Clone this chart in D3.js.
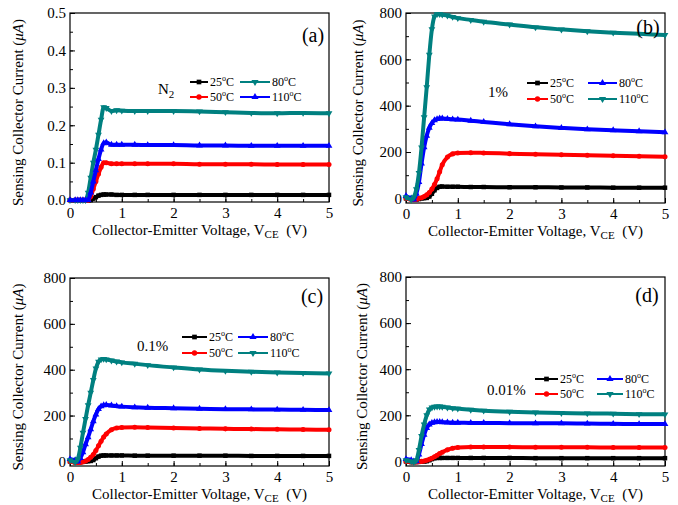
<!DOCTYPE html>
<html>
<head>
<meta charset="utf-8">
<script src="https://cdn.jsdelivr.net/npm/d3@7"></script>
<style>
  body { margin: 0; background: #fff; }
  svg, svg text { font-family: "Liberation Serif", "DejaVu Serif", "Times New Roman", Times, serif; fill: #000; }
  .axis path, .axis line { stroke: #000; }
</style>
</head>
<body>
<div id="chart"></div>
<script>
// shared x values (V) for every curve
var voltage = [0, 0.1, 0.15, 0.2, 0.25, 0.3, 0.35, 0.4, 0.45, 0.5, 0.55, 0.6, 0.65, 0.7, 0.8, 0.9, 1, 1.25, 1.5, 2, 2.5, 3, 3.5, 4, 4.5, 5];
var temps = ["25", "50", "80", "110"];
var xTicks = [0, 1, 2, 3, 4, 5];
var yTicksN2 = [0, 0.1, 0.2, 0.3, 0.4, 0.5];
var yTicksGas = [0, 200, 400, 600, 800];

// (a) N2
var n2_25 = [0, 0, 0, 0, 0, 0, 0, 0, 0.004, 0.008, 0.012, 0.014, 0.015, 0.015, 0.015, 0.014, 0.014, 0.014, 0.014, 0.014, 0.014, 0.014, 0.014, 0.014, 0.014, 0.014];
var n2_50 = [0, 0, 0, 0, 0, 0, 0, 0.01, 0.03, 0.05, 0.07, 0.088, 0.1, 0.1, 0.097, 0.097, 0.097, 0.097, 0.097, 0.097, 0.096, 0.096, 0.096, 0.095, 0.095, 0.095];
var n2_80 = [0, 0, 0, 0, 0, 0, 0.02, 0.06, 0.1, 0.135, 0.175, 0.215, 0.248, 0.246, 0.238, 0.24, 0.239, 0.238, 0.238, 0.238, 0.237, 0.235, 0.233, 0.232, 0.233, 0.232];
var n2_110 = [0, 0, 0, 0, 0, 0, 0, 0.02, 0.05, 0.08, 0.11, 0.135, 0.152, 0.154, 0.148, 0.148, 0.148, 0.148, 0.147, 0.147, 0.146, 0.146, 0.145, 0.145, 0.145, 0.145];

// (b) 1%
var p1_25 = [0, 0, -5, -5, -3, 0, 1, 2, 8, 20, 35, 45, 50, 51, 50, 50, 50, 49, 49, 48, 48, 47, 47, 46, 46, 46];
var p1_50 = [0, -5, -5, -5, 0, 3, 8, 15, 25, 40, 60, 85, 115, 145, 178, 192, 196, 197, 196, 193, 190, 188, 186, 184, 182, 180];
var p1_80 = [10, 0, -5, 20, 70, 150, 220, 270, 305, 325, 337, 342, 345, 345, 343, 341, 340, 335, 330, 320, 311, 304, 298, 294, 290, 285];
var p1_110 = [5, -5, 5, 40, 110, 220, 350, 480, 620, 730, 785, 795, 795, 793, 789, 783, 778, 770, 762, 750, 738, 729, 721, 715, 710, 705];

// (c) 0.1%
var p01_25 = [0, -3, -3, -3, -2, 0, 1, 2, 6, 14, 21, 25, 26, 26, 26, 26, 26, 25, 25, 25, 25, 25, 24, 24, 24, 24];
var p01_50 = [0, -5, -5, -5, -2, 2, 8, 18, 30, 48, 68, 88, 106, 120, 138, 146, 148, 149, 148, 146, 144, 142, 141, 140, 139, 138];
var p01_80 = [10, 5, 0, 15, 40, 75, 105, 140, 175, 205, 228, 240, 245, 246, 244, 241, 239, 236, 234, 232, 230, 228, 227, 226, 225, 224];
var p01_110 = [5, -3, 10, 60, 125, 185, 245, 300, 355, 405, 435, 445, 447, 445, 440, 436, 432, 426, 420, 410, 401, 395, 391, 388, 386, 384];

// (d) 0.01%
var p001_25 = [0, -3, -3, -3, -2, 0, 0, 1, 5, 10, 14, 15, 15, 15, 15, 15, 15, 15, 15, 15, 14, 14, 14, 14, 14, 14];
var p001_50 = [0, -3, -3, -3, -2, 0, 2, 5, 9, 14, 20, 27, 34, 40, 50, 57, 60, 62, 62, 62, 61, 61, 61, 60, 60, 60];
var p001_80 = [10, 5, 0, 0, 30, 75, 115, 145, 160, 167, 170, 171, 171, 170, 169, 168, 168, 167, 167, 166, 165, 165, 164, 163, 162, 162];
var p001_110 = [5, 0, -3, 5, 50, 110, 160, 200, 225, 234, 237, 238, 238, 237, 234, 231, 229, 224, 220, 215, 212, 210, 208, 207, 205, 204];

var BLACK = "#000000", RED = "#ff0000", BLUE = "#0000ff", TEAL = "#008080";
var SQ = "square", CI = "circle", UP = "up", DN = "down";
var FONT = "'Liberation Serif', 'DejaVu Serif', serif";

var panels = [
    { tag: "(a)", gas: ["N", "2"], x0: 70, x1: 329, y0: 13, y1: 202, yDomain: [-0.005, 0.5], yTicks: yTicksN2, yStep: 0.05, fmt: ".1f",
      series: [n2_25, n2_50, n2_80, n2_110], colors: [BLACK, RED, TEAL, BLUE], marks: [SQ, CI, DN, UP],
      tagX: 313, tagY: 42, titleX: 18, gasX: 158, gasY: 94, rows: [82, 97], cols: [[190, 208], [240, 270]] },
    { tag: "(b)", gas: ["1%"], x0: 406, x1: 665, y0: 13, y1: 203, yDomain: [-20, 800], yTicks: yTicksGas, yStep: 100, fmt: "d",
      series: [p1_25, p1_50, p1_80, p1_110], colors: [BLACK, RED, BLUE, TEAL], marks: [SQ, CI, UP, DN],
      tagX: 648, tagY: 34, titleX: 358, gasX: 488, gasY: 97, rows: [83, 99], cols: [[527, 548], [588, 617]] },
    { tag: "(c)", gas: ["0.1%"], x0: 70, x1: 329, y0: 278, y1: 466, yDomain: [-20, 800], yTicks: yTicksGas, yStep: 100, fmt: "d",
      series: [p01_25, p01_50, p01_80, p01_110], colors: [BLACK, RED, BLUE, TEAL], marks: [SQ, CI, UP, DN],
      tagX: 312, tagY: 303, titleX: 18, gasX: 137, gasY: 351, rows: [337, 353], cols: [[182, 207], [238, 268]] },
    { tag: "(d)", gas: ["0.01%"], x0: 406, x1: 665, y0: 277, y1: 466, yDomain: [-20, 800], yTicks: yTicksGas, yStep: 100, fmt: "d",
      series: [p001_25, p001_50, p001_80, p001_110], colors: [BLACK, RED, BLUE, TEAL], marks: [SQ, CI, UP, DN],
      tagX: 647, tagY: 302, titleX: 362, gasX: 487, gasY: 395, rows: [379, 394], cols: [[535, 558], [597, 623]] }
];

var svg = d3.select("#chart")
    .append("svg")
    .attr("width", 678)
    .attr("height", 505)
    .attr("font-family", FONT);

function symbolPath(kind, size) {
    var type = kind == SQ ? d3.symbolSquare : kind == CI ? d3.symbolCircle : d3.symbolTriangle;
    return d3.symbol().type(type).size(size)();
}

function addMarker(g, kind, color, cx, cy, size) {
    g.append("path")
        .attr("d", symbolPath(kind, size))
        .attr("fill", color)
        .attr("transform", "translate(" + cx + "," + cy + ")" + (kind == DN ? " rotate(180)" : ""));
}

function drawPanel(p) {
    var x = d3.scaleLinear().domain([0, 5]).range([p.x0, p.x1]);
    var y = d3.scaleLinear().domain(p.yDomain).range([p.y1, p.y0]);
    var g = svg.append("g");

    // minor ticks
    var yMinor = d3.range(0, p.yDomain[1] + p.yStep / 2, p.yStep);
    g.append("g")
        .attr("class", "axis")
        .attr("transform", "translate(" + p.x0 + ",0)")
        .call(d3.axisLeft(y).tickValues(yMinor).tickSize(-3).tickFormat(""))
        .select(".domain").remove();
    g.append("g")
        .attr("class", "axis")
        .attr("transform", "translate(0," + p.y1 + ")")
        .call(d3.axisBottom(x).tickValues(d3.range(0, 5.01, 0.5)).tickSize(-3).tickFormat(""))
        .select(".domain").remove();

    // major ticks + labels
    var ya = g.append("g")
        .attr("class", "axis")
        .attr("transform", "translate(" + p.x0 + ",0)")
        .call(d3.axisLeft(y).tickValues(p.yTicks).tickSize(-5).tickPadding(4).tickFormat(d3.format(p.fmt)))
        .attr("font-family", FONT)
        .attr("font-size", 15);
    ya.select(".domain").remove();

    var xa = g.append("g")
        .attr("class", "axis")
        .attr("transform", "translate(0," + p.y1 + ")")
        .call(d3.axisBottom(x).tickValues(xTicks).tickSize(-5).tickPadding(5).tickFormat(d3.format("d")))
        .attr("font-family", FONT)
        .attr("font-size", 15);
    xa.select(".domain").remove();

    // frame
    g.append("rect")
        .attr("x", p.x0)
        .attr("y", p.y0)
        .attr("width", p.x1 - p.x0)
        .attr("height", p.y1 - p.y0)
        .attr("fill", "none")
        .attr("stroke", "#000")
        .attr("stroke-width", 1.2);

    // curves
    var line = d3.line()
        .x(function (d, i) { return x(voltage[i]); })
        .y(function (d) { return y(d); })
        .curve(d3.curveMonotoneX);

    p.series.forEach(function (s, k) {
        g.append("path")
            .datum(s)
            .attr("fill", "none")
            .attr("stroke", p.colors[k])
            .attr("stroke-width", 4)
            .attr("d", line);
        s.forEach(function (v, i) {
            addMarker(g, p.marks[k], p.colors[k], x(voltage[i]), y(v), 20);
        });
    });

    // legend
    p.series.forEach(function (s, k) {
        var col = p.cols[k < 2 ? 0 : 1];
        var ry = p.rows[k % 2];
        g.append("line")
            .attr("x1", col[0]).attr("x2", col[1])
            .attr("y1", ry).attr("y2", ry)
            .attr("stroke", p.colors[k])
            .attr("stroke-width", 2);
        addMarker(g, p.marks[k], p.colors[k], (col[0] + col[1]) / 2, ry, 22);
        var t = g.append("text")
            .attr("x", col[1] + 2)
            .attr("y", ry + 4)
            .attr("font-size", 12);
        t.append("tspan").text(temps[k]);
        t.append("tspan").attr("dy", -5).attr("font-size", 8).text("o");
        t.append("tspan").attr("dy", 5).text("C");
    });

    var gt = g.append("text")
        .attr("x", p.gasX)
        .attr("y", p.gasY)
        .attr("font-size", 15);
    gt.append("tspan").text(p.gas[0]);
    if (p.gas.length > 1) {
        gt.append("tspan").attr("dy", 4).attr("font-size", 11).text(p.gas[1]);
    }

    // panel tag
    g.append("text")
        .attr("x", p.tagX)
        .attr("y", p.tagY)
        .attr("text-anchor", "middle")
        .attr("font-size", 20)
        .text(p.tag);

    // x title
    var xt = g.append("text")
        .attr("x", (p.x0 + p.x1) / 2)
        .attr("y", p.y1 + 33)
        .attr("text-anchor", "middle")
        .attr("font-size", 15);
    xt.append("tspan").text("Collector-Emitter Voltage, V");
    xt.append("tspan").attr("dy", 3).attr("font-size", 11).text("CE");
    xt.append("tspan").attr("dy", -3).text("\u00a0\u00a0(V)");

    // y title
    var yt = g.append("text")
        .attr("transform", "translate(" + p.titleX + "," + ((p.y0 + p.y1) / 2 + 5) + ") rotate(-90)")
        .attr("text-anchor", "middle")
        .attr("dy", "0.35em")
        .attr("font-size", 15);
    yt.append("tspan").text("Sensing Collector Current (");
    yt.append("tspan").attr("font-style", "italic").text("\u03bcA");
    yt.append("tspan").text(")");
}

panels.forEach(drawPanel);
</script>
</body>
</html>
